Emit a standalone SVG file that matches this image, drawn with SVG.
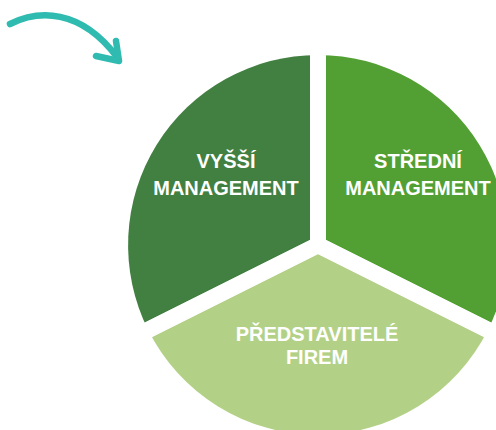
<svg xmlns="http://www.w3.org/2000/svg" width="496" height="430" viewBox="0 0 496 430">
<style>
.lbl{font-family:"Liberation Sans",Arial,sans-serif;font-weight:bold;font-size:20px;fill:#ffffff;text-anchor:middle}
.gap{fill:none;stroke:#ffffff;stroke-width:16;stroke-linejoin:miter;stroke-miterlimit:10}
.arr{fill:none;stroke:#30BBB1;stroke-width:6.5;stroke-linecap:round;stroke-linejoin:round}
</style>
<rect width="496" height="430" fill="#ffffff"/>
<g id="vyssi">
<path d="M318,245 L318,55 A190,190 0 0,0 148,329.7 Z" fill="#428042"/>
</g>
<g id="stredni">
<path d="M318,245 L318,55 A190,190 0 0,1 488,329.7 Z" fill="#52A033"/>
</g>
<g id="predstavitele">
<path d="M318,245 L148,329.7 A190,190 0 0,0 488,329.7 Z" fill="#B3D186"/>
</g>
<g id="connectors">
<path class="gap" d="M130,339 L318,245 L318,40"/>
<path class="gap" d="M506,339 L318,245 L318,40"/>
<path class="gap" d="M130,339 L318,245 L506,339"/>
<path class="arr" d="M10,24 C38,10 80,8 117,57"/>
<path class="arr" d="M96,56 L119,61 L116,41"/>
</g>
<g id="labels">
<text class="lbl" x="226" y="168">VYŠŠÍ</text>
<text class="lbl" x="226" y="195">MANAGEMENT</text>
<text class="lbl" x="418" y="168">STŘEDNÍ</text>
<text class="lbl" x="418" y="195">MANAGEMENT</text>
<text class="lbl" x="317" y="341">PŘEDSTAVITELÉ</text>
<text class="lbl" x="317" y="364">FIREM</text>
</g>
</svg>
